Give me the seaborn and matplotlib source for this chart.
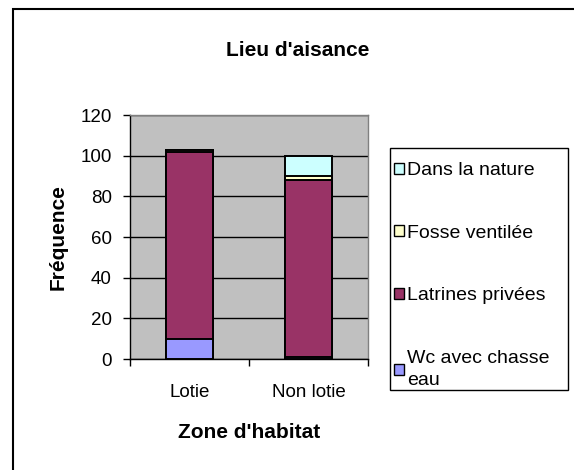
import numpy as np
import pandas as pd
import matplotlib
matplotlib.use("Agg")
import matplotlib.pyplot as plt
from matplotlib.patches import Patch, Rectangle
import seaborn as sns

# Data
zones = ["Lotie", "Non lotie"]
wc = [10, 1]          # Wc avec chasse eau
latrines = [92, 87]   # Latrines privées
fosse = [1, 2]        # Fosse ventilée
nature = [0, 10]      # Dans la nature

labels = ["Wc avec chasse\neau", "Latrines privées", "Fosse ventilée", "Dans la nature"]
colors = ["#9999FF", "#993366", "#FFFFCC", "#CCFFFF"]

plt.rcParams['font.family'] = ['Liberation Sans', 'DejaVu Sans']

# cumulative heights for stacking (draw tallest first, then overlay)
layers = np.array([wc, latrines, fosse, nature], dtype=float)
cum = np.cumsum(layers, axis=0)

fig = plt.figure(figsize=(5.74, 4.7), dpi=100)
ax = fig.add_axes([130 / 574, 1 - 359 / 470, 238 / 574, 244 / 470])
ax.set_facecolor("#C0C0C0")

for i in range(len(layers) - 1, -1, -1):
    df = pd.DataFrame({"zone": zones, "value": cum[i]})
    sns.barplot(data=df, x="zone", y="value", color=colors[i], saturation=1,
                width=0.4, edgecolor="black", linewidth=1.4, errorbar=None, ax=ax,
                zorder=3)

ax.set_ylim(0, 120)
ax.set_xlim(-0.5, 1.5)
ax.set_yticks(range(0, 121, 20))
ax.yaxis.grid(True, color="black", linewidth=1, zorder=0)
ax.set_axisbelow(True)

ax.tick_params(axis="y", direction="out", length=5, width=1, pad=8, labelsize=13.5)
ax.tick_params(axis="x", which="major", length=0, pad=18, labelsize=13.5)
ax.set_xticks([-0.5, 0.5, 1.5], minor=True)
ax.tick_params(axis="x", which="minor", direction="out", length=5, width=1)

for s in ["top", "right"]:
    ax.spines[s].set_color("#808080")
    ax.spines[s].set_linewidth(1)
for s in ["left", "bottom"]:
    ax.spines[s].set_color("black")
    ax.spines[s].set_linewidth(1)

ax.set_xlabel("Zone d'habitat", fontsize=15, fontweight="bold", va="center")
ax.set_ylabel("Fréquence", fontsize=15, fontweight="bold", va="center")
ax.xaxis.set_label_coords(0.5, (359 - 433) / 244)
ax.yaxis.set_label_coords((58 - 130) / 238, 0.5)

fig.text(298 / 574, 1 - 50 / 470, "Lieu d'aisance", ha="center", va="center",
         fontsize=15, fontweight="bold")

# legend entries (frame drawn separately)
handles = [Patch(facecolor=colors[i], edgecolor="black", linewidth=1) for i in range(3, -1, -1)]
leg_labels = [labels[i] for i in range(3, -1, -1)]
leg = fig.legend(handles, leg_labels, loc="upper left",
                 bbox_to_anchor=(394 / 574, 1 - 162 / 470),
                 fontsize=14, frameon=False, borderpad=0,
                 labelspacing=2.35, handlelength=0.5, handleheight=0.5,
                 handletextpad=0.15, borderaxespad=0)
for t in leg.get_texts():
    t.set_linespacing(1.4)

fig.patches.append(Rectangle((390 / 574, 1 - 390 / 470), 178 / 574, 242 / 470,
                             transform=fig.transFigure, fill=False,
                             edgecolor="black", linewidth=1))

# chart area border
fig.patches.append(Rectangle((13 / 574, -0.05), 1.0, 1 - 9 / 470 + 0.05,
                             transform=fig.transFigure, fill=False,
                             edgecolor="black", linewidth=1.5))

fig.savefig("out.png", dpi=100)
